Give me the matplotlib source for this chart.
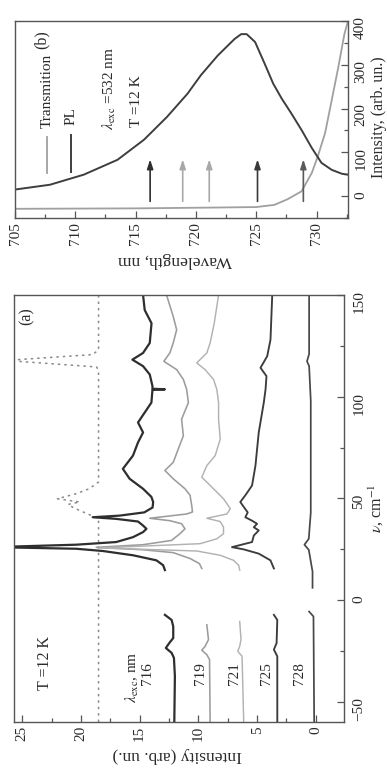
import matplotlib
matplotlib.use("Agg")
import matplotlib.pyplot as plt
from matplotlib.lines import Line2D
from matplotlib.ticker import MultipleLocator

plt.rcParams['font.family'] = ['Liberation Serif', 'DejaVu Serif']
plt.rcParams['mathtext.fontset'] = 'stix'

# ---------------- panel (b): PL and transmission ----------------
pl_wl = [705, 707.9, 710.7, 713.5, 715.7, 717.6, 719.3, 720.4, 721.8, 723.2, 723.75,
         724.2, 724.9, 725.7, 726.4, 727.1, 727.9, 728.75, 729.6, 730.4, 731.25, 732.1, 732.6]
pl_int = [15, 26, 49, 83, 129, 181, 234, 276, 321, 359, 370,
          370, 352, 302, 257, 223, 189, 151, 110, 76, 60, 51, 49]

tr_wl = [705, 715, 722, 725, 726.5, 727.6, 728.75, 729.6, 730.1, 730.7, 731.25, 731.8, 732.3, 732.6]
tr_int = [-29, -28, -26, -25, -20, -7, 11, 53, 91, 144, 219, 295, 370, 400]

arrow_wl = [716.2, 718.9, 721.1, 725.1, 728.9]
arrow_colors = ['#2f2f2f', '#a8a8a8', '#a8a8a8', '#3a3a3a', '#5a5a5a']

# ---------------- panel (a): spectra for each excitation ----------------
exc_labels = ['716', '719', '721', '725', '728']
line_colors = ['#2e2e2e', '#9c9c9c', '#b2b2b2', '#3c3c3c', '#484848']
line_widths = [1.6, 1.15, 1.05, 1.35, 1.25]

nu_716_s = [14.7, 17.1, 19.5, 22.0, 24.1, 25.2, 26.0, 27.2, 28.5, 30.9, 33.4, 35.0, 36.6, 38.6,
            39.9, 40.7, 41.5, 43.1, 45.5, 48.2, 50.7, 54.7, 59.6, 64.5, 71.0, 77.5, 82.4, 87.3,
            92.2, 97.1, 103.3, 103.6, 103.9, 105.2, 110.9, 115, 118.2, 121.5, 126.4, 136.1, 142.6, 150]
int_716_s = [12.85, 13.0, 13.57, 15.57, 18.14, 20.4, 27.5, 20.4, 17.0, 15.57, 14.71, 14.42, 14.71, 15.14,
             17.0, 19.0, 16.7, 14.6, 13.9, 13.85, 14.0, 14.71, 15.85, 16.43, 15.57, 15.14, 14.71, 15.14,
             14.57, 14.0, 13.91, 12.85, 13.91, 13.91, 14.14, 14.71, 15.62, 14.71, 14.14, 13.99, 14.57, 14.71]
nu_716_as = [-60, -37.5, -28.5, -26.0, -23.6, -21.2, -18.7, -13.0, -9.8, -7.3]
int_716_as = [12.05, 12.0, 12.08, 12.28, 12.77, 12.48, 12.14, 12.14, 12.28, 12.85]

nu_719_s = [15.5, 17.9, 20.4, 23.3, 24.7, 25.9, 27.2, 29.3, 32.6, 35.0, 37.5, 39.0, 40.2, 42.3,
            43.3, 46.6, 51.5, 54.7, 59.6, 63.7, 67.7, 74.3, 80.8, 88.9, 97.1, 103.6, 108.5, 113.3,
            117.4, 121.5, 126.4, 132.9, 139.4, 150]
int_719_s = [9.71, 9.91, 10.71, 12.14, 14.71, 18.7, 14.71, 12.28, 11.57, 11.14, 11.43, 12.43, 14.14, 11.0,
             10.5, 10.57, 10.71, 11.14, 12.14, 12.85, 12.14, 11.71, 11.28, 11.43, 10.85, 11.0, 11.28, 11.85,
             12.94, 12.43, 12.14, 11.85, 12.14, 12.71]
nu_719_as = [-60, -29.3, -26.9, -24.7, -22.8, -19.5, -12.2]
int_719_as = [9.0, 9.05, 9.28, 9.71, 9.43, 9.14, 9.28]

nu_721_s = [14.7, 17.1, 19.5, 22.0, 24.1, 25.6, 27.7, 30.1, 32.6, 35.8, 38.6, 40.2, 42.3, 44.9,
            49.8, 54.7, 60.4, 66.1, 71.0, 79.1, 88.9, 97.1, 103.6, 108.5, 113.3, 116.6, 121.5,
            126.4, 136.1, 150]
int_721_s = [6.48, 6.57, 7.0, 8.14, 10.14, 18.4, 9.85, 8.43, 7.86, 7.86, 8.14, 9.28, 7.57, 7.28,
             7.86, 8.71, 9.71, 9.28, 8.57, 8.14, 8.28, 8.28, 8.43, 8.71, 9.43, 10.14, 9.28,
             9.0, 8.65, 8.28]
nu_721_as = [-60, -27.7, -25.2, -22.8, -19.5, -10.6]
int_721_as = [6.14, 6.28, 6.65, 6.48, 6.37, 6.48]

nu_725_s = [15.5, 19.5, 22.8, 24.9, 26.0, 28.5, 31.7, 34.2, 35.8, 37.5, 39.0, 40.7, 43.1, 45.5,
            48.2, 51.5, 56.3, 66.1, 82.4, 97.1, 103.6, 110.1, 114.2, 119.9, 128, 150]
int_725_s = [3.57, 3.86, 4.86, 6.14, 7.14, 5.43, 5.28, 4.86, 5.28, 5.0, 5.43, 6.0, 5.8, 6.1,
             6.43, 6.0, 5.43, 5.14, 4.86, 4.43, 4.28, 4.2, 4.71, 4.14, 3.86, 3.71]
nu_725_as = [-60, -27.7, -24.4, -21.2, -9.8, -7.3]
int_725_as = [3.28, 3.28, 3.57, 3.34, 3.28, 3.57]

nu_728_s = [6, 14, 24.7, 27.2, 30.1, 43, 98, 115, 117.4, 121, 150]
int_728_s = [0.28, 0.28, 0.6, 0.97, 0.6, 0.43, 0.43, 0.57, 0.75, 0.57, 0.57]
nu_728_as = [-60, -8.1, -5.7]
int_728_as = [0.14, 0.2, 0.57]

# notch filter transmission (dashed)
nu_dash = [-60, 40, 42, 44, 45.6, 47, 48.2, 49.8, 52.3, 54.7, 58, 112, 114.6, 117.4, 118.2, 120.7, 123, 150]
int_dash = [18.5, 18.5, 19.3, 20.1, 20.7, 21.1, 20.1, 22.0, 20.4, 19.3, 18.5, 18.5, 18.65, 25.4, 25.4, 19.0, 18.5, 18.5]

stokes = [(nu_716_s, int_716_s), (nu_719_s, int_719_s), (nu_721_s, int_721_s),
          (nu_725_s, int_725_s), (nu_728_s, int_728_s)]
antistokes = [(nu_716_as, int_716_as), (nu_719_as, int_719_as), (nu_721_as, int_721_as),
              (nu_725_as, int_725_as), (nu_728_as, int_728_as)]

W, H = 387, 772
fig = plt.figure(figsize=(W / 100, H / 100), dpi=100)
fig.patch.set_facecolor('white')

ax_b = fig.add_axes([15 / W, 1 - 218 / H, 333 / W, 197 / H])
ax_a = fig.add_axes([14 / W, 1 - 722 / H, 330 / W, 427 / H])

TXT = '#2a2a2a'


def style(ax):
    for s in ax.spines.values():
        s.set_color('#555555')
        s.set_linewidth(1.0)
    ax.yaxis.tick_right()
    ax.tick_params(which='both', direction='in', colors='#555555', labelcolor=TXT,
                   top=False, left=False, right=True, bottom=True, labelsize=11)
    ax.tick_params(which='major', length=5, width=0.9)
    ax.tick_params(which='minor', length=3, width=0.9)
    ax.tick_params(axis='x', labelrotation=90, pad=3)
    ax.tick_params(axis='y', labelrotation=90, pad=6)


# ---- panel (b) ----
ax_b.plot(tr_wl, tr_int, color='#a0a0a0', lw=1.3)
ax_b.plot(pl_wl, pl_int, color='#3e3e3e', lw=1.4)
for wl, c in zip(arrow_wl, arrow_colors):
    ax_b.annotate('', xy=(wl, 84), xytext=(wl, -12),
                  arrowprops=dict(arrowstyle='-|>,head_length=0.55,head_width=0.18',
                                  color=c, lw=1.2, shrinkA=0, shrinkB=0))
ax_b.set_xlim(705, 732.6)
ax_b.set_ylim(-50, 400)
ax_b.xaxis.set_major_locator(MultipleLocator(5))
ax_b.xaxis.set_minor_locator(MultipleLocator(2.5))
ax_b.yaxis.set_major_locator(MultipleLocator(100))
ax_b.yaxis.set_minor_locator(MultipleLocator(50))
style(ax_b)
ax_b.tick_params(axis='y', pad=4.5)

ax_b.text(0.08, 0.905, '(b)', transform=ax_b.transAxes, rotation=90,
          ha='center', va='center', fontsize=11.5, color=TXT)
ax_b.add_line(Line2D([0.096, 0.096], [0.228, 0.411], transform=ax_b.transAxes,
                     color='#a0a0a0', lw=1.3))
ax_b.add_line(Line2D([0.168, 0.168], [0.234, 0.421], transform=ax_b.transAxes,
                     color='#3e3e3e', lw=1.4))
for x, y, s in [(0.096, 0.457, 'Transmition'), (0.168, 0.472, 'PL'),
                (0.285, 0.447, r'$\lambda_{\rm exc}$ =532 nm'), (0.366, 0.462, 'T =12 K')]:
    ax_b.text(x, y, s, transform=ax_b.transAxes, rotation=90, rotation_mode='anchor',
              ha='left', va='center', fontsize=11, color=TXT)

# ---- panel (a) ----
ax_a.plot(int_dash, nu_dash, color='#8a8a8a', lw=1.1, ls=(0, (1.6, 2.6)))
for (nu, it), c, lw in zip(stokes, line_colors, line_widths):
    ax_a.plot(it, nu, color=c, lw=lw)
for (nu, it), c, lw in zip(antistokes, line_colors, line_widths):
    ax_a.plot(it, nu, color=c, lw=lw)
ax_a.set_xlim(25.7, -2.4)
ax_a.set_ylim(-60, 150)
ax_a.xaxis.set_major_locator(MultipleLocator(5))
ax_a.xaxis.set_minor_locator(MultipleLocator(2.5))
ax_a.yaxis.set_major_locator(MultipleLocator(50))
ax_a.yaxis.set_minor_locator(MultipleLocator(25))
style(ax_a)

ax_a.text(0.039, 0.951, '(a)', transform=ax_a.transAxes, rotation=90,
          ha='center', va='center', fontsize=11.5, color=TXT)
ax_a.text(0.094, 0.075, 'T =12 K', transform=ax_a.transAxes, rotation=90,
          rotation_mode='anchor', ha='left', va='center', fontsize=11.5, color=TXT)
ax_a.text(0.358, 0.044, r'$\lambda_{\rm exc}$, nm', transform=ax_a.transAxes, rotation=90,
          rotation_mode='anchor', ha='left', va='center', fontsize=11, color=TXT)
for x, s in zip([0.405, 0.566, 0.668, 0.764, 0.866], exc_labels):
    ax_a.text(x, 0.087, s, transform=ax_a.transAxes, rotation=90,
              rotation_mode='anchor', ha='left', va='center', fontsize=11, color=TXT)

# axis titles (page is turned by 90 degrees)
fig.text(175 / W, 1 - 260 / H, 'Wavelength, nm', rotation=180, ha='center', va='center',
         fontsize=12.5, color=TXT)
fig.text(379 / W, 1 - 117 / H, 'Intensity, (arb. un.)', rotation=90, ha='center', va='center',
         fontsize=11.5, color=TXT)
fig.text(177 / W, 1 - 755 / H, 'Intensity (arb. un.)', rotation=180, ha='center', va='center',
         fontsize=12.5, color=TXT)
fig.text(376 / W, 1 - 508 / H, r'$\nu$, cm$^{-1}$', rotation=90, ha='center', va='center',
         fontsize=11.5, color=TXT)

fig.savefig('out.png', dpi=100)
